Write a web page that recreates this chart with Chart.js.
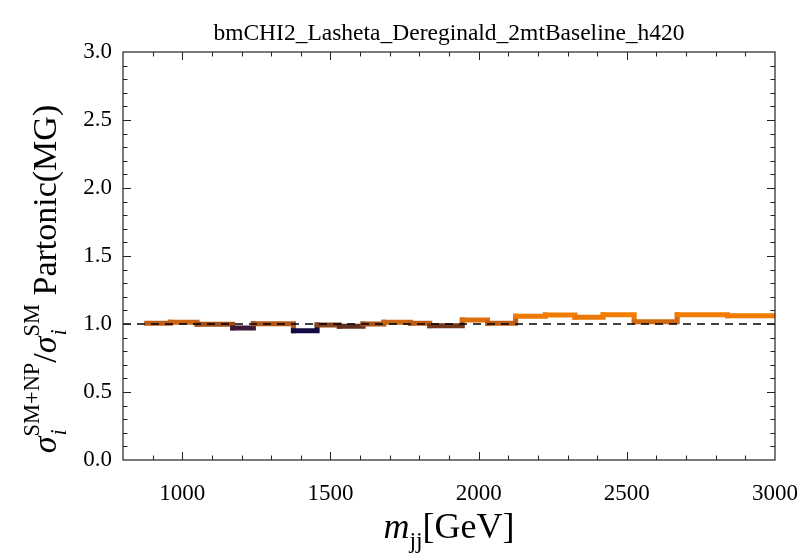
<!DOCTYPE html>
<html>
<head>
<meta charset="utf-8">
<script src="https://cdn.jsdelivr.net/npm/chart.js@4"></script>
<style>
  html, body { margin: 0; padding: 0; background: #fff; }
  #wrap { width: 811px; height: 555px; }
</style>
</head>
<body>
<div id="wrap"><canvas id="ratio" width="811" height="555"></canvas></div>
<script>
// bin edges in m_jj (GeV) and the SM+NP / SM ratio per bin
const binEdges = [880, 960, 1050, 1170, 1240, 1375, 1455, 1530, 1610, 1680, 1770,
  1835, 1945, 2030, 2125, 2225, 2325, 2420, 2525, 2670, 2840, 3000];
const ratio = [1.005, 1.012, 0.998, 0.970, 1.002, 0.950, 0.993, 0.983, 1.000, 1.012,
  1.005, 0.988, 1.030, 1.005, 1.057, 1.066, 1.050, 1.068, 1.017, 1.068, 1.061];
const refLine = [1, 1];
const xRange = [800, 3000];
const yRange = [0, 3];
const xTicks = [1000, 1500, 2000, 2500, 3000];
const yTicks = [0, 0.5, 1, 1.5, 2, 2.5, 3];
const plotTitle = "bmCHI2_Lasheta_Dereginald_2mtBaseline_h420";

const SERIF = "'Liberation Serif', 'Times New Roman', serif";

// colour of a bin from its ratio: dark navy below 1, orange above
const colorStops = [
  [0.95, [18, 10, 66]],
  [0.97, [58, 26, 56]],
  [0.985, [102, 48, 30]],
  [0.995, [146, 72, 24]],
  [1.005, [190, 94, 22]],
  [1.015, [206, 104, 18]],
  [1.03, [222, 112, 12]],
  [1.06, [240, 122, 2]],
  [1.07, [244, 126, 0]],
];
function binColor(v) {
  if (v <= colorStops[0][0]) return `rgb(${colorStops[0][1].join(",")})`;
  for (let i = 1; i < colorStops.length; i++) {
    const [v1, c1] = colorStops[i];
    const [v0, c0] = colorStops[i - 1];
    if (v <= v1) {
      const t = (v - v0) / (v1 - v0);
      const c = c0.map((a, k) => Math.round(a + (c1[k] - a) * t));
      return `rgb(${c.join(",")})`;
    }
  }
  return `rgb(${colorStops[colorStops.length - 1][1].join(",")})`;
}

const stepPoints = binEdges.map((x, i) => ({ x, y: ratio[Math.min(i, ratio.length - 1)] }));

// draws a run of pieces; a piece is plain text or a stacked sub/superscript
function richWidth(ctx, pieces) {
  let w = 0;
  pieces.forEach((p) => {
    if (p.sub || p.sup) {
      const ws = [p.sub, p.sup].filter(Boolean).map((s) => {
        ctx.font = `${s.italic ? "italic " : ""}${s.size}px ${SERIF}`;
        return ctx.measureText(s.text).width;
      });
      w += Math.max(...ws);
    } else {
      ctx.font = `${p.italic ? "italic " : ""}${p.size}px ${SERIF}`;
      w += ctx.measureText(p.text).width;
    }
  });
  return w;
}
function drawRich(ctx, pieces, cx, baseline) {
  let x = cx - richWidth(ctx, pieces) / 2;
  ctx.textAlign = "left";
  ctx.textBaseline = "alphabetic";
  pieces.forEach((p) => {
    if (p.sub || p.sup) {
      let adv = 0;
      [p.sub, p.sup].filter(Boolean).forEach((s) => {
        ctx.font = `${s.italic ? "italic " : ""}${s.size}px ${SERIF}`;
        ctx.fillText(s.text, x + (s.dx || 0), baseline + s.dy);
        adv = Math.max(adv, ctx.measureText(s.text).width);
      });
      x += adv;
    } else {
      ctx.font = `${p.italic ? "italic " : ""}${p.size}px ${SERIF}`;
      ctx.fillText(p.text, x, baseline);
      x += ctx.measureText(p.text).width;
    }
  });
}

const frameTicks = {
  id: "frameTicks",
  afterDatasetsDraw(chart) {
    const { ctx, chartArea: a, scales } = chart;
    const xs = scales.x, ys = scales.y;
    ctx.save();
    ctx.strokeStyle = "#222";
    ctx.lineWidth = 1.2;
    ctx.strokeRect(a.left, a.top, a.right - a.left, a.bottom - a.top);

    ctx.beginPath();
    for (let v = xRange[0] + 100; v < xRange[1]; v += 100) {
      const px = Math.round(xs.getPixelForValue(v)) + 0.5;
      const len = v % 500 === 0 ? 8 : 4.5;
      ctx.moveTo(px, a.bottom); ctx.lineTo(px, a.bottom - len);
      ctx.moveTo(px, a.top); ctx.lineTo(px, a.top + len);
    }
    for (let k = 1; k < 30; k++) {
      const v = k / 10;
      const py = Math.round(ys.getPixelForValue(v)) + 0.5;
      const len = k % 5 === 0 ? 8 : 4.5;
      ctx.moveTo(a.left, py); ctx.lineTo(a.left + len, py);
      ctx.moveTo(a.right, py); ctx.lineTo(a.right - len, py);
    }
    ctx.lineWidth = 1;
    ctx.stroke();

    // plot title
    ctx.fillStyle = "#000";
    ctx.font = `23.5px ${SERIF}`;
    ctx.textAlign = "center";
    ctx.textBaseline = "alphabetic";
    ctx.fillText(plotTitle, (a.left + a.right) / 2, 40);

    // x axis title: m_jj[GeV]
    const FX = 36;
    drawRich(ctx, [
      { text: "m", size: FX, italic: true },
      { sub: { text: "jj", size: 0.66 * FX, dy: 0.28 * FX } },
      { text: "[GeV]", size: FX },
    ], (a.left + a.right) / 2, 538);

    // y axis title: sigma ratio
    const FY = 34;
    ctx.translate(56, 279);
    ctx.rotate(-Math.PI / 2);
    drawRich(ctx, [
      { text: "σ", size: FY, italic: true },
      { sub: { text: "i", size: 0.66 * FY, italic: true, dy: 0.3 * FY, dx: 1 },
        sup: { text: "SM+NP", size: 0.66 * FY, dy: -0.5 * FY } },
      { text: "/", size: FY },
      { text: "σ", size: FY, italic: true },
      { sub: { text: "i", size: 0.66 * FY, italic: true, dy: 0.3 * FY, dx: 1 },
        sup: { text: "SM", size: 0.66 * FY, dy: -0.5 * FY } },
      { text: " Partonic(MG)", size: FY },
    ], 0, 0);
    ctx.restore();
  },
};

new Chart(document.getElementById("ratio"), {
  type: "line",
  data: {
    datasets: [
      {
        label: "SM",
        data: xRange.map((x, i) => ({ x, y: refLine[i] })),
        borderColor: "#000",
        borderWidth: 1.3,
        borderDash: [8, 6],
        pointRadius: 0,
        fill: false,
        order: 0,
      },
      {
        label: "ratio",
        data: stepPoints,
        stepped: true,
        borderWidth: 5,
        borderCapStyle: "square",
        borderColor: binColor(ratio[0]),
        segment: {
          borderColor: (c) => binColor(ratio[Math.min(c.p0DataIndex, ratio.length - 1)]),
        },
        pointRadius: 0,
        fill: false,
        order: 1,
      },
    ],
  },
  options: {
    responsive: false,
    animation: false,
    events: [],
    layout: { padding: { left: 23, right: 36, top: 52, bottom: 0 } },
    plugins: { legend: { display: false }, tooltip: { enabled: false } },
    scales: {
      x: {
        type: "linear",
        min: xRange[0],
        max: xRange[1],
        afterBuildTicks: (s) => { s.ticks = xTicks.map((value) => ({ value })); },
        afterFit: (s) => { s.height = 95; s.paddingLeft = 0; s.paddingRight = 0; },
        grid: { display: false, drawTicks: false },
        border: { display: false },
        ticks: {
          padding: 20,
          color: "#000",
          font: { family: SERIF, size: 23 },
          maxRotation: 0,
          callback: (v) => String(v),
        },
      },
      y: {
        type: "linear",
        min: yRange[0],
        max: yRange[1],
        afterBuildTicks: (s) => { s.ticks = yTicks.map((value) => ({ value })); },
        afterFit: (s) => { s.width = 100; s.paddingTop = 0; s.paddingBottom = 0; },
        grid: { display: false, drawTicks: false },
        border: { display: false },
        ticks: {
          padding: 11,
          color: "#000",
          font: { family: SERIF, size: 23 },
          callback: (v) => v.toFixed(1),
        },
      },
    },
  },
  plugins: [frameTicks],
});
</script>
</body>
</html>
